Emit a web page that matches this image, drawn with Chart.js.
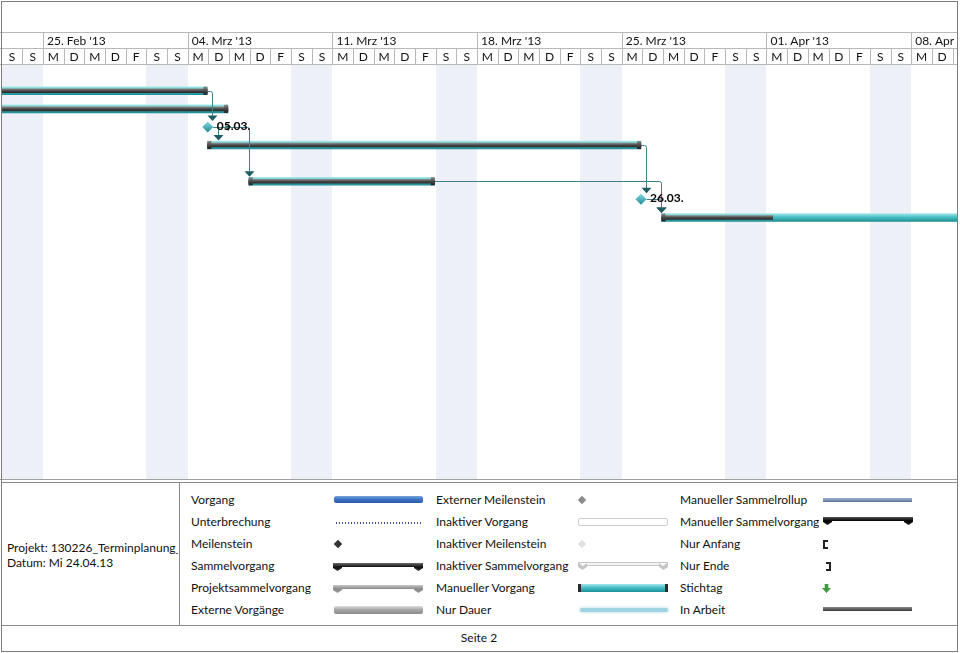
<!DOCTYPE html>
<html lang="de"><head><meta charset="utf-8">
<title>Gantt</title>
<script src="https://cdn.jsdelivr.net/npm/chart.js@4.4.1/dist/chart.umd.min.js"></script>
<style>
html,body{margin:0;padding:0;background:#fff}
body{width:960px;height:653px;position:relative;overflow:hidden;font-family:Lato,"Open Sans",Arial,sans-serif;font-size:12px;color:#111}
#c{position:absolute;left:0;top:0}
.t{position:absolute;line-height:14px;white-space:nowrap}
.s{position:absolute}
.hl{position:absolute;height:1px}
.vl{position:absolute;width:1px}
#frame{position:absolute;left:1px;top:1px;width:955px;height:649px;border:1px solid #7d7d7d;pointer-events:none}
.sum{clip-path:polygon(0 0,100% 0,100% 5px,calc(100% - 4.5px) 8px,calc(100% - 9px) 5px,calc(100% - 9px) 4px,9px 4px,9px 5px,4.5px 8px,0 5px);height:8px}
.dia{position:absolute;width:6px;height:6px;transform:rotate(45deg)}
</style></head><body>
<canvas id="c" width="960" height="481"></canvas>

<!-- legend / footer -->
<div class="hl" style="left:1px;top:482px;width:956px;background:#8a8a8a"></div>
<div class="vl" style="left:179px;top:482px;height:143px;background:#8a8a8a"></div>
<div class="hl" style="left:1px;top:625px;width:956px;background:#8a8a8a"></div>

<div class="t" style="left:7px;top:541px;width:171px;overflow:hidden">Projekt: 130226_Terminplanung_</div>
<div class="t" style="left:7px;top:556px">Datum: Mi 24.04.13</div>

<div class="t" style="left:191px;top:493px">Vorgang</div>
<div class="t" style="left:191px;top:515px">Unterbrechung</div>
<div class="t" style="left:191px;top:537px">Meilenstein</div>
<div class="t" style="left:191px;top:559px">Sammelvorgang</div>
<div class="t" style="left:191px;top:581px">Projektsammelvorgang</div>
<div class="t" style="left:191px;top:603px">Externe Vorgänge</div>

<div class="s" style="left:334px;top:496px;width:89px;height:7px;border-radius:2px;background:linear-gradient(#7aa6e0,#3f74c4 45%,#2a5aa8)"></div>
<div class="s" style="left:336px;top:522px;width:87px;height:2px;background:repeating-linear-gradient(90deg,#4a4f9e 0 1px,transparent 1px 3px)"></div>
<div class="dia" style="left:335px;top:541px;background:#333"></div>
<div class="s sum" style="left:333px;top:563px;width:90px;background:linear-gradient(#6a6a6a,#111 50%,#333)"></div>
<div class="s sum" style="left:333px;top:585px;width:90px;background:linear-gradient(#c8c8c8,#8a8a8a 50%,#9a9a9a)"></div>
<div class="s" style="left:334px;top:606px;width:89px;height:8px;border-radius:2px;background:linear-gradient(#dcdcdc,#a4a4a4 50%,#8c8c8c)"></div>

<div class="t" style="left:436px;top:493px">Externer Meilenstein</div>
<div class="t" style="left:436px;top:515px">Inaktiver Vorgang</div>
<div class="t" style="left:436px;top:537px">Inaktiver Meilenstein</div>
<div class="t" style="left:436px;top:559px">Inaktiver Sammelvorgang</div>
<div class="t" style="left:436px;top:581px">Manueller Vorgang</div>
<div class="t" style="left:436px;top:603px">Nur Dauer</div>

<div class="dia" style="left:579px;top:497px;background:#8c8c8c"></div>
<div class="s" style="left:578px;top:518px;width:88px;height:6px;border:1px solid #cfcfcf;border-radius:2px;background:#fff"></div>
<div class="dia" style="left:579px;top:541px;background:#e2e2e2"></div>
<div class="s sum" style="left:578px;top:562px;width:90px;background:#c6c6c6"></div>
<div class="s" style="left:579px;top:563px;width:8px;height:3px;background:#fff;clip-path:polygon(0 0,100% 0,50% 100%)"></div>
<div class="s" style="left:659px;top:563px;width:8px;height:3px;background:#fff;clip-path:polygon(0 0,100% 0,50% 100%)"></div>
<div class="s" style="left:587px;top:563px;width:72px;height:2px;background:#f4f4f4"></div>
<div class="s" style="left:578px;top:584px;width:84px;height:8px;border-left:3px solid #2a2a2a;border-right:3px solid #2a2a2a;background:linear-gradient(#a4e6e9,#45c0c7 45%,#1f8f98)"></div>
<div class="s" style="left:580px;top:608px;width:88px;height:4px;border-radius:2px;background:#9fd3e2;box-shadow:0 0 3px 1px #cfe9f1"></div>

<div class="t" style="left:680px;top:493px">Manueller Sammelrollup</div>
<div class="t" style="left:680px;top:515px">Manueller Sammelvorgang</div>
<div class="t" style="left:680px;top:537px">Nur Anfang</div>
<div class="t" style="left:680px;top:559px">Nur Ende</div>
<div class="t" style="left:680px;top:581px">Stichtag</div>
<div class="t" style="left:680px;top:603px">In Arbeit</div>

<div class="s" style="left:823px;top:498px;width:89px;height:4px;background:linear-gradient(#9fb2d0,#5d7299)"></div>
<div class="s sum" style="left:823px;top:517px;width:90px;background:linear-gradient(#555,#000 50%,#222)"></div>
<div class="s" style="left:823px;top:540px;width:3px;height:5px;border:2px solid #222;border-right:none"></div>
<div class="s" style="left:826px;top:562px;width:3px;height:5px;border:2px solid #222;border-left:none"></div>
<div class="s" style="left:822px;top:584px;width:9px;height:9px;background:#3e9a3e;clip-path:polygon(30% 0,70% 0,70% 45%,100% 45%,50% 100%,0 45%,30% 45%)"></div>
<div class="s" style="left:823px;top:607px;width:89px;height:4px;background:linear-gradient(#8a8a8a,#3a3a3a)"></div>

<div class="t" style="left:0;top:631px;width:958px;text-align:center">Seite 2</div>
<div id="frame"></div>

<script>
// ---- data (days counted from Sat 23.02.2013) ----
const weekLabels = ["25. Feb '13", "04. Mrz '13", "11. Mrz '13", "18. Mrz '13", "25. Mrz '13", "01. Apr '13", "08. Apr '13"];
const weekStartDays = [2, 9, 16, 23, 30, 37, 44];
const dayLetters = ['S', 'S', 'M', 'D', 'M', 'D', 'F'];   // Sa, So, Mo, Di, Mi, Do, Fr

const taskIds   = ['T1', 'T2', 'T3', 'T4', 'T5'];
const taskRows  = [1, 2, 4, 6, 8];
const taskStart = [-2, -2, 9.95, 11.95, 31.92];
const taskEnd   = [9.95, 10.95, 30.93, 20.95, 48];
const taskDone  = [9.95, 10.95, 30.93, 20.95, 37.3];

const msIds    = ['M1', 'M2'];
const msRows   = [3, 7];
const msDays   = [9.97, 30.93];
const msLabels = ['05.03.', '26.03.'];

const deadlineRows = [3];
const deadlineDays = [10.95];

const linkFrom = ['T1', 'M1', 'M1', 'T3', 'T4', 'M2'];
const linkTo   = ['M1', 'T3', 'T4', 'M2', 'T5', 'T5'];

// ---- styling helpers ----
function rowY(c) {
  const ys = c.chart.scales && c.chart.scales.y;
  if (!c.raw || !ys) return NaN;
  return ys.getPixelForValue(c.raw.y);
}
function grad(c, half, stops, fallback) {
  const y = rowY(c);
  if (!isFinite(y)) return fallback;
  const g = c.chart.ctx.createLinearGradient(0, y - half, 0, y + half);
  stops.forEach(([o, col]) => g.addColorStop(o, col));
  return g;
}
const cyanFill = c => grad(c, 4, [[0, '#a8e7ea'], [0.35, '#58c9cf'], [1, '#1f8e97']], '#45bfc6');
const greyFill = c => grad(c, 2, [[0, '#8c8c8c'], [0.5, '#4a4a4a'], [1, '#2a2a2a']], '#4a4a4a');
const msFill   = c => grad(c, 5, [[0, '#7fd6db'], [1, '#238e97']], '#3aa8b0');

const HEADER_TOP = 32, HEADER_MID = 48;

const ganttPlugin = {
  id: 'gantt',
  beforeDraw(chart) {
    const { ctx, chartArea: a, scales: { x } } = chart;
    const px = v => x.getPixelForValue(v);
    ctx.save();
    ctx.fillStyle = '#fff';
    ctx.fillRect(0, 0, chart.width, chart.height);
    ctx.beginPath(); ctx.rect(0, 0, a.right, chart.height); ctx.clip();
    // weekend shading
    ctx.fillStyle = '#edf0f6';
    for (let d = Math.floor(x.min); d < x.max; d++) {
      if (((d % 7) + 7) % 7 < 2) {
        const x0 = Math.round(px(d)), x1 = Math.round(px(d + 1));
        ctx.fillRect(x0, a.top, x1 - x0, a.bottom - a.top);
      }
    }
    // header grid
    ctx.strokeStyle = '#b8b8b8'; ctx.lineWidth = 1;
    ctx.beginPath();
    [HEADER_TOP, HEADER_MID, a.top - 1].forEach(yy => { ctx.moveTo(0, yy + 0.5); ctx.lineTo(a.right, yy + 0.5); });
    weekStartDays.forEach(d => { const xx = Math.round(px(d)) + 0.5; ctx.moveTo(xx, HEADER_TOP); ctx.lineTo(xx, HEADER_MID); });
    for (let d = Math.floor(x.min) + 1; d < x.max; d++) { const xx = Math.round(px(d)) + 0.5; ctx.moveTo(xx, HEADER_MID); ctx.lineTo(xx, a.top - 1); }
    ctx.stroke();
    ctx.beginPath(); ctx.strokeStyle = '#a0a0a0';
    ctx.moveTo(0, a.bottom - 0.5); ctx.lineTo(chart.width, a.bottom - 0.5); ctx.stroke();
    // header text
    ctx.fillStyle = '#111'; ctx.font = '12px Lato, "Open Sans", sans-serif'; ctx.textBaseline = 'middle';
    ctx.textAlign = 'left';
    weekLabels.forEach((lab, i) => ctx.fillText(lab, px(weekStartDays[i]) + 4, (HEADER_TOP + HEADER_MID) / 2 + 1));
    ctx.textAlign = 'center';
    for (let d = Math.floor(x.min); d < x.max; d++) {
      ctx.fillText(dayLetters[((d % 7) + 7) % 7], px(d + 0.5), (HEADER_MID + a.top) / 2 + 1);
    }
    ctx.restore();
  },
  afterDatasetsDraw(chart) {
    const { ctx, chartArea: a, scales: { x, y } } = chart;
    const px = v => x.getPixelForValue(v), py = v => y.getPixelForValue(v);
    ctx.save();
    ctx.beginPath(); ctx.rect(a.left - 2, a.top, a.right - a.left + 2, a.bottom - a.top); ctx.clip();
    // manual task end caps
    taskIds.forEach((id, i) => {
      const yc = py(taskRows[i]);
      const g = ctx.createLinearGradient(0, yc - 4, 0, yc + 4);
      g.addColorStop(0, '#8a8a8a'); g.addColorStop(0.5, '#4a4a4a'); g.addColorStop(1, '#1e1e1e');
      ctx.fillStyle = g;
      if (taskStart[i] >= x.min) ctx.fillRect(px(taskStart[i]), yc - 4, 4, 8);
      if (taskEnd[i] <= x.max) ctx.fillRect(px(taskEnd[i]) - 4, yc - 4, 4, 8);
    });
    // links
    const node = id => {
      let i = taskIds.indexOf(id);
      if (i >= 0) return { start: px(taskStart[i]), end: px(taskEnd[i]), y: py(taskRows[i]), half: 4 };
      i = msIds.indexOf(id);
      return { start: px(msDays[i]), end: px(msDays[i]) + 5.5, y: py(msRows[i]), half: 5.5 };
    };
    linkFrom.forEach((f, k) => {
      const s = node(f), t = node(linkTo[k]);
      const xl = Math.round(Math.max(t.start, s.end + 5)) + 0.5;
      const ys = Math.round(s.y) + 0.5;
      const tip = t.y - t.half - 0.5;
      ctx.strokeStyle = '#3c8288'; ctx.lineWidth = 1;
      ctx.beginPath();
      ctx.moveTo(s.end, ys); ctx.lineTo(xl - 2, ys);
      ctx.quadraticCurveTo(xl, ys, xl, ys + 2);
      ctx.lineTo(xl, tip - 5);
      ctx.stroke();
      ctx.fillStyle = '#1c5c62';
      ctx.beginPath();
      ctx.moveTo(xl - 5, tip - 5.5); ctx.lineTo(xl + 5, tip - 5.5); ctx.lineTo(xl, tip); ctx.closePath();
      ctx.fill();
    });
    // milestone labels
    ctx.fillStyle = '#000'; ctx.font = 'bold 12px Lato, "Open Sans", sans-serif';
    ctx.textBaseline = 'middle'; ctx.textAlign = 'left';
    msLabels.forEach((lab, i) => ctx.fillText(lab, px(msDays[i]) + 9, py(msRows[i]) - 1));
    ctx.restore();
  }
};

new Chart(document.getElementById('c'), {
  type: 'bar',
  data: {
    datasets: [
      { type: 'bar', label: 'Manueller Vorgang', data: taskRows.map((r, i) => ({ x: [taskStart[i], taskEnd[i]], y: r })),
        backgroundColor: cyanFill, barThickness: 8, borderWidth: 0, grouped: false, order: 3 },
      { type: 'bar', label: 'In Arbeit', data: taskRows.map((r, i) => ({ x: [taskStart[i], taskDone[i]], y: r })),
        backgroundColor: greyFill, barThickness: 4, borderWidth: 0, grouped: false, order: 2 },
      { type: 'scatter', indexAxis: 'x', label: 'Meilenstein', data: msRows.map((r, i) => ({ x: msDays[i], y: r })),
        pointStyle: 'rectRot', pointRadius: 5.5, backgroundColor: msFill, borderWidth: 0, showLine: false, order: 1 },
      { type: 'scatter', indexAxis: 'x', label: 'Stichtag', data: deadlineRows.map((r, i) => ({ x: deadlineDays[i], y: r + 0.05 })),
        pointStyle: 'triangle', rotation: 180, pointRadius: 3.5, backgroundColor: '#2d5c3c', borderWidth: 0, showLine: false, order: 0 }
    ]
  },
  options: {
    indexAxis: 'y', responsive: false, maintainAspectRatio: false, animation: false, devicePixelRatio: 1,
    layout: { autoPadding: false, padding: { left: 1.7, right: 3, top: 65, bottom: 1 } },
    scales: {
      x: { type: 'linear', min: 0, max: (957 - 1.7) / 20.67, offset: false, grace: 0, bounds: 'data', display: false },
      y: { type: 'linear', min: -0.42, max: 22.5, reverse: true, offset: false, grace: 0, bounds: 'data', display: false }
    },
    plugins: { legend: { display: false }, tooltip: { enabled: false } },
    events: []
  },
  plugins: [ganttPlugin]
});
</script>
</body></html>
